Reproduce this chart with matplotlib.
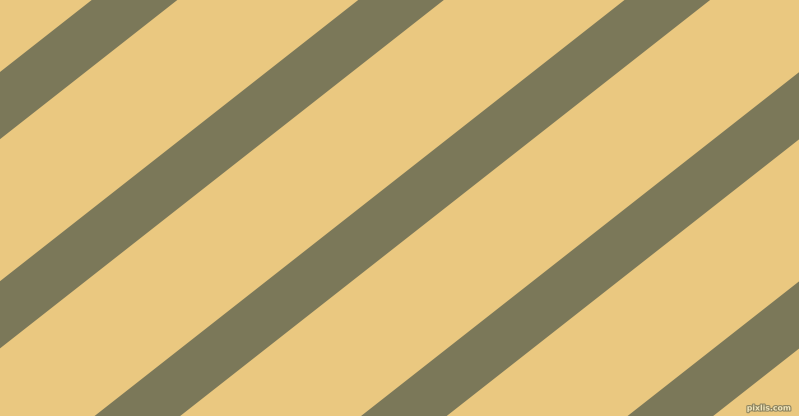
import matplotlib
matplotlib.use("Agg")
import matplotlib.pyplot as plt
import matplotlib.patheffects as pe
import numpy as np

# Stripe centres measured along the top edge (pixels) and pattern parameters
stripe_top_centers = [134.5, 401.0, 667.3, 933.8, 1200.3]
stripe_halfwidth = 42.8          # horizontal half width
stripe_slope = 0.785              # dy/dx (rising to the right)
bg_color = "#EAC880"
stripe_color = "#7B7859"
watermark = "pixlis.com"

W, H = 799, 416
fig = plt.figure(figsize=(W / 100, H / 100), dpi=100)
ax = fig.add_axes([0, 0, 1, 1])
ax.set_xlim(0, W)
ax.set_ylim(H, 0)
ax.axis("off")
fig.patch.set_facecolor(bg_color)
ax.set_facecolor(bg_color)

shift = H / stripe_slope
for c in stripe_top_centers:
    xs = [c - stripe_halfwidth, c + stripe_halfwidth,
          c + stripe_halfwidth - shift, c - stripe_halfwidth - shift]
    ys = [0, 0, H, H]
    ax.fill(xs, ys, color=stripe_color, lw=0, antialiased=True)

ax.text(769, 408, watermark, fontsize=5.6, color="#F2E6BC",
        ha="center", va="center", family="DejaVu Sans", fontweight="bold",
        path_effects=[pe.withStroke(linewidth=1.6, foreground="#8E8560")])

fig.savefig("out.png", dpi=100, facecolor=bg_color)
